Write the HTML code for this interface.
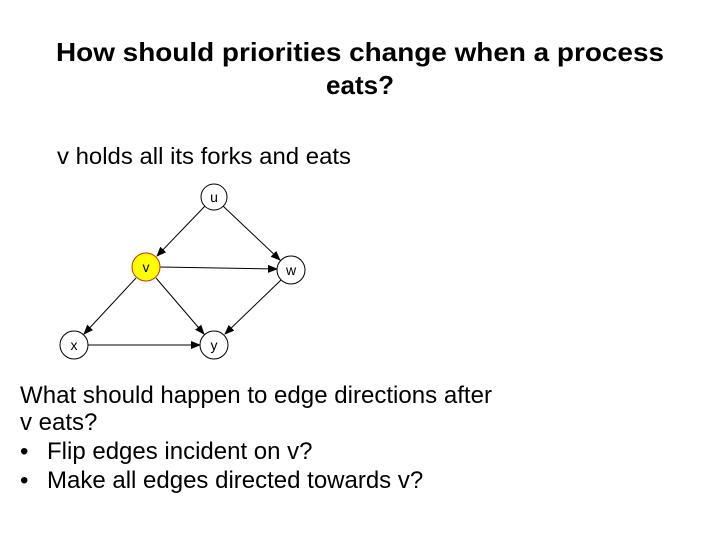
<!DOCTYPE html>
<html><head><style>html,body{margin:0;padding:0;background:#fff}svg{display:block}</style></head>
<body>
<svg width="720" height="540" xmlns="http://www.w3.org/2000/svg" font-family="Liberation Sans, Arial, sans-serif">
<defs><marker id="a" markerWidth="10" markerHeight="8" refX="9" refY="4" orient="auto" markerUnits="userSpaceOnUse"><path d="M0,0 L10,4 L0,8 z" fill="#000"/></marker></defs>
<text x="360" y="61" text-anchor="middle" font-size="26" font-weight="bold" textLength="608" lengthAdjust="spacingAndGlyphs">How should priorities change when a process</text>
<text x="360" y="94" text-anchor="middle" font-size="26" font-weight="bold">eats?</text>
<text x="57" y="164" font-size="23" textLength="294" lengthAdjust="spacingAndGlyphs">v holds all its forks and eats</text>
<g stroke="#000" stroke-width="1" marker-end="url(#a)">
<line x1="205" y1="206" x2="157" y2="256"/>
<line x1="223" y1="206" x2="280" y2="260"/>
<line x1="160" y1="267" x2="277" y2="269"/>
<line x1="136" y1="278" x2="84" y2="334"/>
<line x1="156" y1="278" x2="204" y2="334"/>
<line x1="281" y1="280" x2="225" y2="334"/>
<line x1="88" y1="345" x2="200" y2="345"/>
</g>
<g stroke="#000" stroke-width="1" fill="#fff">
<circle cx="214" cy="197" r="13"/>
<circle cx="146" cy="267" r="14" fill="#ffff00" stroke="#d03000"/>
<circle cx="291" cy="270" r="14"/>
<circle cx="74" cy="345" r="14"/>
<circle cx="214" cy="345" r="14"/>
</g>
<g font-size="14" text-anchor="middle" fill="#000">
<text x="214" y="202">u</text><text x="146" y="272">v</text><text x="291" y="275">w</text><text x="74" y="350">x</text><text x="214" y="350">y</text>
</g>
<g font-size="24" fill="#000">
<text x="20" y="403" textLength="472" lengthAdjust="spacingAndGlyphs">What should happen to edge directions after</text>
<text x="20" y="430">v eats?</text>
<text x="20" y="459">•</text><text x="47" y="459">Flip edges incident on v?</text>
<text x="20" y="488">•</text><text x="47" y="488">Make all edges directed towards v?</text>
</g>
</svg>
</body></html>
